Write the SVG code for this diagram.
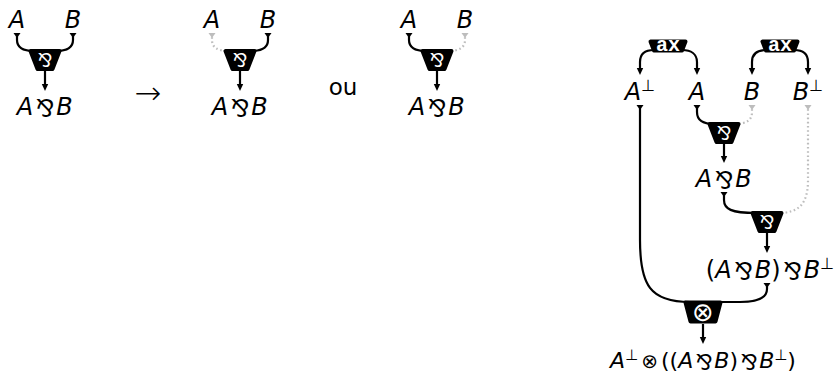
<svg xmlns="http://www.w3.org/2000/svg" width="836" height="373" viewBox="0 0 836 373">
<style>
.m{font-family:"DejaVu Sans",sans-serif;font-size:24px;fill:#000}
.i{font-style:italic}
.sup{font-size:16px}
.pr{font-size:24px;font-style:normal}
.w{fill:none;stroke:#000;stroke-width:2.2}
.g{fill:none;stroke:#bdbdbd;stroke-width:2.2;stroke-dasharray:1.6 2.6}
.nd{fill:#000;stroke:#000;stroke-width:4;stroke-linejoin:round}
.ns{font-family:"DejaVu Sans",sans-serif;font-size:19px;fill:#fff;text-anchor:middle}
.ax{font-family:"Liberation Mono",monospace;font-weight:bold;font-size:20px;fill:#fff;text-anchor:middle}
</style>
<defs>
<marker id="arr" viewBox="0 -4 8 8" refX="0" refY="0" markerWidth="8" markerHeight="8" markerUnits="userSpaceOnUse" orient="auto" overflow="visible"><path d="M0,-3.2 L7,0 L0,3.2 z" fill="#000"/></marker>
<marker id="tail" viewBox="0 -4 6 8" refX="0" refY="0" markerWidth="6" markerHeight="8" markerUnits="userSpaceOnUse" orient="auto" overflow="visible"><path d="M0,-3.5 L5,0 L0,3.5 z" fill="#000"/></marker>
<marker id="tailg" viewBox="0 -4 6 8" refX="0" refY="0" markerWidth="6" markerHeight="8" markerUnits="userSpaceOnUse" orient="auto" overflow="visible"><path d="M0,-3.5 L5,0 L0,3.5 z" fill="#bdbdbd"/></marker>
<path id="parr" d="M-14.5,-9 L14.5,-9 L7.5,9 L-7.5,9 Z"/>
<path id="tens" d="M-17.5,-9.5 L17.5,-9.5 L12.5,9.5 L-12.5,9.5 Z"/>
<path id="axs" d="M-17.5,-4.5 L17.5,-4.5 L14,4.5 L-14,4.5 Z"/>
</defs>

<g id="connectors">
<path class="w" marker-start="url(#tail)" d="M17,33 V40 C17,47 22,51 34,51"/>
<path class="w" marker-start="url(#tail)" d="M73,33 V40 C73,47 68,51 56,51"/>
<path class="w" marker-end="url(#arr)" d="M45,71 V84"/>
<path class="g" marker-start="url(#tailg)" d="M212,33 V40 C212,47 217,51 229,51"/>
<path class="w" marker-start="url(#tail)" d="M268,33 V40 C268,47 263,51 251,51"/>
<path class="w" marker-end="url(#arr)" d="M240,71 V84"/>
<path class="w" marker-start="url(#tail)" d="M409,33 V40 C409,47 414,51 426,51"/>
<path class="g" marker-start="url(#tailg)" d="M465,33 V40 C465,47 460,51 448,51"/>
<path class="w" marker-end="url(#arr)" d="M437,71 V84"/>
<path class="w" marker-end="url(#arr)" d="M654,50 C645,50 640,54 640,62 V68"/>
<path class="w" marker-end="url(#arr)" d="M682,50 C691,50 697,54 697,62 V68"/>
<path class="w" marker-end="url(#arr)" d="M766,50 C757,50 752,54 752,62 V68"/>
<path class="w" marker-end="url(#arr)" d="M794,50 C803,50 808,54 808,62 V68"/>
<path class="w" marker-start="url(#tail)" d="M697,105 V112 C697,120 702,124 714,124"/>
<path class="g" marker-start="url(#tailg)" d="M752,105 V112 C752,120 747,124 734,124"/>
<path class="w" marker-end="url(#arr)" d="M724,144 V156"/>
<path class="w" marker-start="url(#tail)" d="M724,192 V200 C724,209 731,213 756,213"/>
<path class="g" marker-start="url(#tailg)" d="M808,105 V180 C808,205 798,213 778,213"/>
<path class="w" marker-end="url(#arr)" d="M767,233 V246"/>
<path class="w" marker-start="url(#tail)" d="M767,283 V289 C767,298 758,302 740,302 H718"/>
<path class="w" marker-start="url(#tail)" d="M640,105 V240 C640,285 650,302 690,302"/>
<path class="w" marker-end="url(#arr)" d="M703,324 V337"/>
</g>

<g id="n-left-A"><text class="m i" x="17" y="28" text-anchor="middle">A</text></g>
<g id="n-left-B"><text class="m i" x="73" y="28" text-anchor="middle">B</text></g>
<g id="n-left-par"><use href="#parr" class="nd" x="45" y="60"/><text class="ns" x="45" y="66.9" transform="rotate(180 45 60)">&amp;</text></g>
<g id="n-left-out"><text class="m" x="45" y="115" text-anchor="middle"><tspan class="i">A</tspan><tspan class="pr" dx="21.4" dy="-15.8" rotate="180">&amp;</tspan><tspan class="i" dx="-17" dy="15.8">B</tspan></text></g>

<g id="n-arrow"><text class="m" x="148" y="104" text-anchor="middle" style="font-size:32px;font-weight:200">→</text></g>

<g id="n-mid-A"><text class="m i" x="212" y="28" text-anchor="middle">A</text></g>
<g id="n-mid-B"><text class="m i" x="268" y="28" text-anchor="middle">B</text></g>
<g id="n-mid-par"><use href="#parr" class="nd" x="240" y="60"/><text class="ns" x="240" y="66.9" transform="rotate(180 240 60)">&amp;</text></g>
<g id="n-mid-out"><text class="m" x="240" y="115" text-anchor="middle"><tspan class="i">A</tspan><tspan class="pr" dx="21.4" dy="-15.8" rotate="180">&amp;</tspan><tspan class="i" dx="-17" dy="15.8">B</tspan></text></g>

<g id="n-ou"><text class="m" x="343" y="95" text-anchor="middle" style="font-size:23px">ou</text></g>

<g id="n-right-A"><text class="m i" x="409" y="28" text-anchor="middle">A</text></g>
<g id="n-right-B"><text class="m i" x="465" y="28" text-anchor="middle">B</text></g>
<g id="n-right-par"><use href="#parr" class="nd" x="437" y="60"/><text class="ns" x="437" y="66.9" transform="rotate(180 437 60)">&amp;</text></g>
<g id="n-right-out"><text class="m" x="437" y="115" text-anchor="middle"><tspan class="i">A</tspan><tspan class="pr" dx="21.4" dy="-15.8" rotate="180">&amp;</tspan><tspan class="i" dx="-17" dy="15.8">B</tspan></text></g>

<g id="n-ax1"><use href="#axs" class="nd" x="668" y="46"/><text class="ax" x="668" y="51">ax</text></g>
<g id="n-ax2"><use href="#axs" class="nd" x="780" y="46"/><text class="ax" x="780" y="51">ax</text></g>
<g id="n-Aperp"><text class="m" x="640" y="100" text-anchor="middle"><tspan class="i">A</tspan><tspan class="sup" dy="-9">⊥</tspan></text></g>
<g id="n-A"><text class="m i" x="697" y="100" text-anchor="middle">A</text></g>
<g id="n-B"><text class="m i" x="752" y="100" text-anchor="middle">B</text></g>
<g id="n-Bperp"><text class="m" x="808" y="100" text-anchor="middle"><tspan class="i">B</tspan><tspan class="sup" dy="-9">⊥</tspan></text></g>
<g id="n-par1"><use href="#parr" class="nd" x="724" y="133"/><text class="ns" x="724" y="139.9" transform="rotate(180 724 133)">&amp;</text></g>
<g id="n-AparB"><text class="m" x="724" y="187" text-anchor="middle"><tspan class="i">A</tspan><tspan class="pr" dx="21.4" dy="-15.8" rotate="180">&amp;</tspan><tspan class="i" dx="-17" dy="15.8">B</tspan></text></g>
<g id="n-par2"><use href="#parr" class="nd" x="767" y="222"/><text class="ns" x="767" y="228.9" transform="rotate(180 767 222)">&amp;</text></g>
<g id="n-AparBparB"><text class="m" x="770" y="278" text-anchor="middle">(<tspan class="i">A</tspan><tspan class="pr" dx="21.4" dy="-15.8" rotate="180">&amp;</tspan><tspan class="i" dx="-17" dy="15.8">B</tspan>)<tspan class="pr" dx="21.4" dy="-15.8" rotate="180">&amp;</tspan><tspan class="i" dx="-17" dy="15.8">B</tspan><tspan class="sup" dy="-9">⊥</tspan></text></g>
<g id="n-tensor"><use href="#tens" class="nd" x="703" y="312"/><text class="ns" x="703" y="321" style="font-size:26px">⊗</text></g>
<g id="n-result"><text class="m" x="703" y="368" text-anchor="middle" style="font-size:22px"><tspan class="i">A</tspan><tspan dy="-8" style="font-size:15px">⊥</tspan><tspan dx="3" dy="8" style="font-size:20px">⊗</tspan><tspan dx="3">((</tspan><tspan class="i">A</tspan><tspan dx="19.6" dy="-14.3" rotate="180" style="font-size:22px">&amp;</tspan><tspan class="i" dx="-15.6" dy="14.3">B</tspan>)<tspan dx="19.6" dy="-14.3" rotate="180" style="font-size:22px">&amp;</tspan><tspan class="i" dx="-15.6" dy="14.3">B</tspan><tspan dy="-8" style="font-size:15px">⊥</tspan><tspan dy="8">)</tspan></text></g>
</svg>
